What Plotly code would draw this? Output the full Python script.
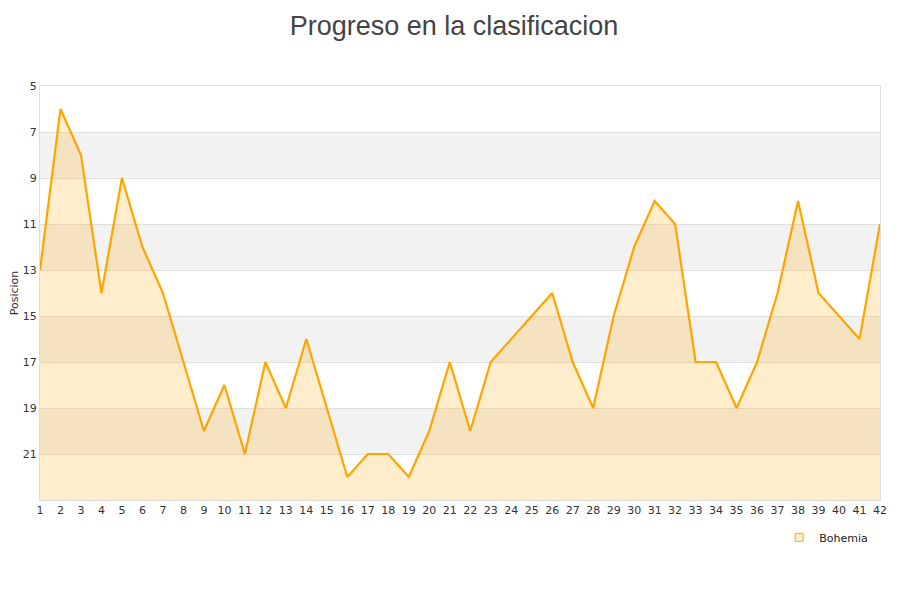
import plotly.graph_objects as go

jornadas = list(range(1, 43))
posicion = [13, 6, 8, 14, 9, 12, 14, 17, 20, 18, 21, 17, 19, 16, 19, 22, 21, 21, 22, 20, 17,
            20, 17, 16, 15, 14, 17, 19, 15, 12, 10, 11, 17, 17, 19, 17, 14, 10, 14, 15, 16, 11]
y_ticks = [5, 7, 9, 11, 13, 15, 17, 19, 21]
y_min, y_max = 5, 23
equipo = "Bohemia"

fig = go.Figure()

# grey bands every other tick interval
shapes = []
for i, t in enumerate(y_ticks[:-1]):
    if i % 2 == 1:
        shapes.append(dict(type="rect", xref="paper", yref="y", x0=0, x1=1,
                           y0=t, y1=y_ticks[i + 1], fillcolor="#f2f2f2",
                           line=dict(width=0), layer="below"))

# baseline for fill
fig.add_trace(go.Scatter(x=jornadas, y=[y_max] * len(jornadas), mode="lines",
                         line=dict(width=0), showlegend=False, hoverinfo="skip"))
fig.add_trace(go.Scatter(x=jornadas, y=posicion, mode="lines", fill="tonexty",
                         fillcolor="rgba(255,165,0,0.2)",
                         line=dict(color="#FFA500", width=2.2),
                         showlegend=False, name=equipo))
# legend entry
fig.add_trace(go.Scatter(x=[None], y=[None], mode="markers", name=equipo,
                         marker=dict(symbol="square", size=8,
                                     color="rgba(255,165,0,0.2)",
                                     line=dict(color="#FFA500", width=1))))

# the page body adds an 8px offset, so the figure is a bit smaller than the window
fig.update_layout(
    width=892, height=592,
    paper_bgcolor="white", plot_bgcolor="white",
    margin=dict(l=32, r=20, t=78, b=100, autoexpand=False),
    title=dict(text="Progreso en la clasificacion", x=0.5, xanchor="center",
               y=0.987, yanchor="top", automargin=False, pad=dict(t=0),
               font=dict(family="Liberation Sans", size=27, color="#444444")),
    font=dict(family="DejaVu Sans", size=11, color="#333333"),
    shapes=shapes,
    legend=dict(x=0.880, y=-0.055, xanchor="left", yanchor="top",
                bgcolor="rgba(0,0,0,0)", font=dict(size=11, color="#222222"),
                itemwidth=30),
    showlegend=True,
)
fig.update_xaxes(range=[1, 42], tickmode="array", tickvals=jornadas,
                 showgrid=False, zeroline=False, showline=True, linecolor="#dddddd",
                 mirror=True, ticks="", tickfont=dict(size=11), automargin=False)
fig.update_yaxes(range=[y_max, y_min], tickmode="array", tickvals=y_ticks,
                 showgrid=True, gridcolor="#e0e0e0", zeroline=False, showline=True,
                 linecolor="#dddddd", mirror=True, ticks="", automargin=False,
                 title=dict(text="Posicion", font=dict(size=11), standoff=6),
                 tickfont=dict(size=11))

fig.write_html("out.html")
